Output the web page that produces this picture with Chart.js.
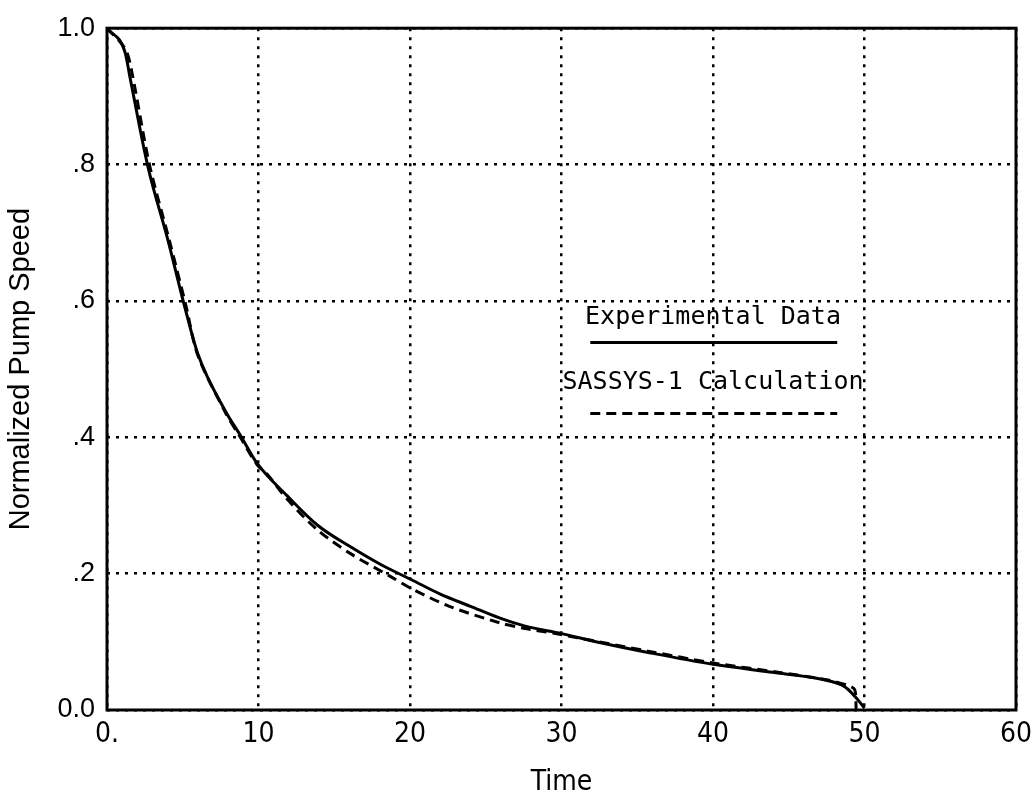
<!DOCTYPE html>
<html>
<head>
<meta charset="utf-8">
<script src="https://cdn.jsdelivr.net/npm/chart.js@4.4.0/dist/chart.umd.min.js"></script>
<style>
  html, body { margin: 0; padding: 0; background: #fff; }
</style>
</head>
<body>
<canvas id="myChart" width="1032" height="800"></canvas>
<script>
// experimental data (solid)
const expTime = [0, 1.2, 1.5, 2.7, 4.0, 5.1, 6.0, 7.8, 8.8, 9.9, 11.9, 13.9, 16.1, 18.1, 20.1, 22.0, 24.0, 25.9, 27.6, 30.0, 32.5, 35.8, 40.0, 44.4, 47.6, 48.7, 49.4, 50.0];
const expSpeed = [1.0, 0.964, 0.93, 0.797, 0.691, 0.594, 0.522, 0.439, 0.403, 0.362, 0.314, 0.271, 0.239, 0.213, 0.191, 0.170, 0.152, 0.135, 0.123, 0.112, 0.099, 0.084, 0.067, 0.054, 0.043, 0.034, 0.019, 0.003];

// SASSYS-1 calculation (dashed)
const calcTime = [0, 1.2, 1.6, 2.8, 4.1, 5.2, 6.0, 7.8, 8.8, 9.9, 10.6, 11.9, 13.9, 16.1, 18.7, 20.1, 22.6, 25.9, 27.5, 29.6, 32.5, 35.8, 40.0, 44.4, 47.6, 48.9, 49.35, 49.45];
const calcSpeed = [1.0, 0.97, 0.94, 0.80, 0.69, 0.594, 0.52, 0.437, 0.40, 0.36, 0.345, 0.309, 0.264, 0.229, 0.196, 0.178, 0.152, 0.128, 0.12, 0.112, 0.10, 0.086, 0.069, 0.055, 0.044, 0.036, 0.03, 0.0];

const xTickLabels = ["0.", "10", "20", "30", "40", "50", "60"];
const yTickLabels = ["0.0", ".2", ".4", ".6", ".8", "1.0"];

const legendItems = ["Experimental Data", "SASSYS-1 Calculation"];

function toPoints(xs, ys) {
  return xs.map((x, i) => ({ x: x, y: ys[i] }));
}

const frameAndLegend = {
  id: "frameAndLegend",
  afterDraw(chart) {
    const ctx = chart.ctx;
    const a = chart.chartArea;
    const xs = chart.scales.x;
    const ys = chart.scales.y;
    ctx.save();
    ctx.strokeStyle = "#000";
    ctx.lineWidth = 3;
    ctx.strokeRect(a.left, a.top, a.right - a.left, a.bottom - a.top);

    // legend text inside plot
    ctx.fillStyle = "#000";
    ctx.font = "25px 'DejaVu Sans Mono', monospace";
    ctx.textAlign = "center";
    ctx.textBaseline = "middle";
    const cx = xs.getPixelForValue(40);
    ctx.fillText(legendItems[0], cx, ys.getPixelForValue(0.575));
    ctx.fillText(legendItems[1], cx, ys.getPixelForValue(0.48));

    const x1 = xs.getPixelForValue(31.9);
    const x2 = xs.getPixelForValue(48.2);
    ctx.lineWidth = 3;
    ctx.beginPath();
    ctx.moveTo(x1, ys.getPixelForValue(0.539));
    ctx.lineTo(x2, ys.getPixelForValue(0.539));
    ctx.stroke();
    ctx.setLineDash([10, 6]);
    ctx.beginPath();
    ctx.moveTo(x1, ys.getPixelForValue(0.435));
    ctx.lineTo(x2, ys.getPixelForValue(0.435));
    ctx.stroke();
    ctx.restore();
  }
};

new Chart(document.getElementById("myChart"), {
  type: "line",
  data: {
    datasets: [{
      label: legendItems[0],
      data: toPoints(expTime, expSpeed),
      borderColor: "#000",
      borderWidth: 3,
      pointRadius: 0,
      fill: false,
      cubicInterpolationMode: "monotone"
    }, {
      label: legendItems[1],
      data: toPoints(calcTime, calcSpeed),
      borderColor: "#000",
      borderWidth: 3,
      borderDash: [10, 6],
      pointRadius: 0,
      fill: false,
      tension: 0.3
    }]
  },
  options: {
    responsive: false,
    animation: false,
    layout: { padding: { top: 20, right: 0, left: 0, bottom: 0 } },
    plugins: {
      legend: { display: false },
      tooltip: { enabled: false }
    },
    scales: {
      x: {
        type: "linear",
        min: 0,
        max: 60,
        afterFit: (s) => { s.height = 90; s.paddingRight = 16; s.paddingLeft = 0; },
        grid: { color: "#000", lineWidth: 2.5, drawTicks: false },
        border: { display: false, dash: [3, 6] },
        ticks: {
          stepSize: 10,
          padding: 8,
          color: "#000",
          font: { family: "'Liberation Sans Narrow', 'DejaVu Sans Condensed', sans-serif", size: 28 },
          callback: (v, i) => xTickLabels[i]
        },
        title: {
          display: true,
          text: "Time",
          color: "#000",
          padding: { top: 0, bottom: 0 },
          font: { family: "'Liberation Sans Narrow', 'DejaVu Sans Condensed', sans-serif", size: 28 }
        }
      },
      y: {
        min: 0,
        max: 1,
        afterFit: (s) => { s.width = 107; },
        grid: { color: "#000", lineWidth: 2.5, drawTicks: false },
        border: { display: false, dash: [3, 6] },
        ticks: {
          stepSize: 0.2,
          padding: 12,
          color: "#000",
          font: { family: "'Liberation Sans', Arial, sans-serif", size: 27 },
          callback: (v, i) => yTickLabels[i]
        },
        title: {
          display: true,
          text: "Normalized Pump Speed",
          color: "#000",
          padding: { top: 4, bottom: 4 },
          font: { family: "'Liberation Sans', Arial, sans-serif", size: 29 }
        }
      }
    }
  },
  plugins: [frameAndLegend]
});
</script>
</body>
</html>
